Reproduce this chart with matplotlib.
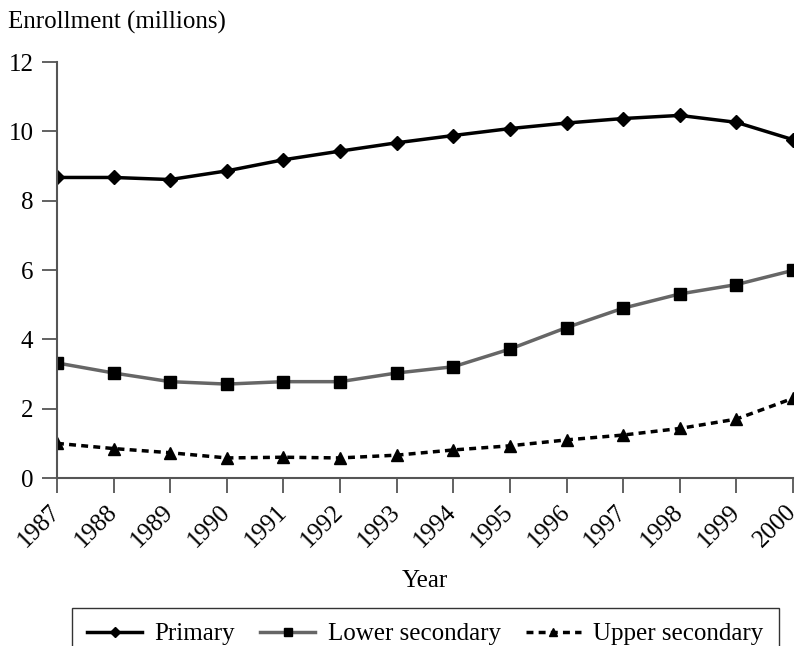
import matplotlib
matplotlib.use("Agg")
import matplotlib.pyplot as plt

plt.rcParams['font.family'] = ['Liberation Serif', 'DejaVu Serif']

years = [1987, 1988, 1989, 1990, 1991, 1992, 1993,
         1994, 1995, 1996, 1997, 1998, 1999, 2000]
primary = [8.67, 8.67, 8.61, 8.86, 9.18, 9.43, 9.67,
           9.88, 10.08, 10.24, 10.37, 10.46, 10.26, 9.76]
lower_secondary = [3.32, 3.03, 2.78, 2.71, 2.78, 2.78, 3.03,
                   3.21, 3.72, 4.34, 4.90, 5.31, 5.58, 5.99]
upper_secondary = [1.00, 0.85, 0.73, 0.58, 0.60, 0.58, 0.66,
                   0.81, 0.93, 1.10, 1.24, 1.43, 1.70, 2.30]
yticks = [0, 2, 4, 6, 8, 10, 12]

fig = plt.figure(figsize=(7.98, 6.46), dpi=100)
ax = fig.add_axes([0.0714, 0.26, 0.9223, 0.644])

ax.plot(years, primary, color='black', lw=2.5, marker='D', ms=7,
        label='Primary')
ax.plot(years, lower_secondary, color='#666666', lw=2.5, marker='s', ms=8,
        mfc='black', mec='black', label='Lower secondary')
ax.plot(years, upper_secondary, color='black', lw=2.5, ls=(0, (2, 1.5)),
        marker='^', ms=8, label='Upper secondary')

ax.set_xlim(years[0], years[-1])
ax.set_ylim(0, 12)
ax.set_xticks(years)
ax.set_xticklabels([str(y) for y in years], rotation=45, ha='right',
                   va='center', rotation_mode='anchor')
ax.set_yticks(yticks)

for s in ['top', 'right']:
    ax.spines[s].set_visible(False)
for s in ['left', 'bottom']:
    ax.spines[s].set_color('#555555')
    ax.spines[s].set_linewidth(1.5)
    ax.spines[s].set_clip_on(False)

ax.tick_params(axis='both', colors='#555555', width=1.3, length=11,
               labelsize=18, labelcolor='black')
ax.tick_params(axis='x', pad=11)
ax.tick_params(axis='y', pad=6)

ax.set_xlabel('Year', fontsize=18, labelpad=13)
fig.text(0.01, 0.966, 'Enrollment (millions)', fontsize=18, va='center')

leg = fig.legend(loc='upper center', bbox_to_anchor=(0.533, 0.059), ncol=3,
                 fontsize=18, frameon=True, fancybox=False, handlelength=2.2,
                 columnspacing=1.0, handletextpad=0.5, borderpad=0.6,
                 borderaxespad=0, markerscale=0.75)
leg.get_frame().set_edgecolor('black')
leg.get_frame().set_linewidth(1.0)

fig.savefig('out.png', dpi=100)
